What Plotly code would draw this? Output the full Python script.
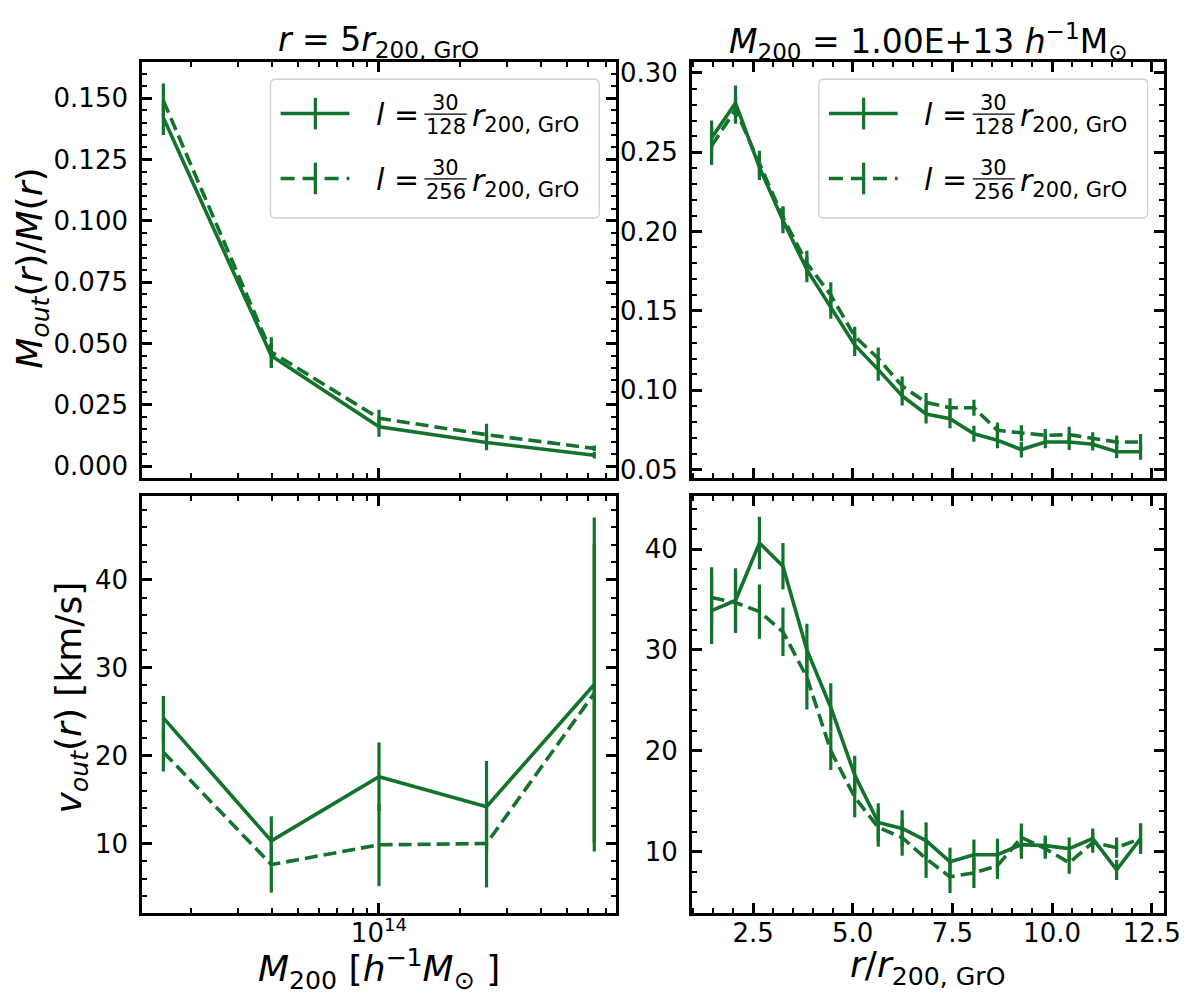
import plotly.graph_objects as go

# ---- data ----
mass = [1.58e13, 3.98e13, 1.0e14, 2.51e14, 6.31e14]
mfrac_128 = [0.142, 0.045, 0.016, 0.0096, 0.0044]
mfrac_128_err = [0.007, 0.005, 0.004, 0.0032, 0.0013]
mfrac_256 = [0.149, 0.0465, 0.0195, 0.0128, 0.0072]
mfrac_256_err = [0.007, 0.006, 0.0035, 0.0045, 0.0012]
vout_128 = [24.3, 10.3, 17.6, 14.2, 28.1]
vout_128_err = [2.5, 2.8, 3.9, 5.2, 19.0]
vout_256 = [20.4, 7.6, 9.85, 10.0, 27.1]
vout_256_err = [2.2, 3.2, 4.7, 5.0, 17.0]

radius = [1.46, 2.06, 2.66, 3.25, 3.85, 4.45, 5.05, 5.64, 6.24, 6.84,
          7.44, 8.04, 8.63, 9.23, 9.83, 10.43, 11.02, 11.62, 12.22]
prof_mfrac_128 = [0.259, 0.281, 0.2405, 0.207, 0.176, 0.152, 0.1286, 0.113, 0.0964, 0.085,
                  0.082, 0.0726, 0.0685, 0.0626, 0.0674, 0.0674, 0.066, 0.0612, 0.0612]
prof_mfrac_128_err = [0.011, 0.011, 0.008, 0.008, 0.008, 0.007, 0.007, 0.007, 0.006, 0.006,
                      0.006, 0.005, 0.005, 0.005, 0.004, 0.005, 0.004, 0.004, 0.005]
prof_mfrac_256 = [0.254, 0.277, 0.243, 0.209, 0.180, 0.160, 0.134, 0.120, 0.1027, 0.0923,
                  0.089, 0.089, 0.0747, 0.073, 0.0716, 0.072, 0.0695, 0.0674, 0.0674]
prof_mfrac_256_err = [0.012, 0.009, 0.008, 0.007, 0.008, 0.008, 0.006, 0.007, 0.006, 0.006,
                      0.006, 0.005, 0.005, 0.005, 0.004, 0.005, 0.004, 0.004, 0.005]
prof_vout_128 = [33.9, 34.9, 40.6, 38.3, 30.0, 24.3, 17.6, 12.9, 12.3, 11.1,
                 9.0, 9.7, 9.7, 10.7, 10.6, 10.3, 11.3, 8.2, 11.3]
prof_vout_128_err = [3.3, 3.2, 2.6, 2.3, 2.6, 2.4, 1.9, 1.9, 1.8, 1.8,
                     1.4, 1.5, 1.6, 1.4, 1.0, 1.1, 1.0, 1.0, 1.5]
prof_vout_256 = [35.2, 34.7, 33.8, 31.8, 27.3, 20.0, 15.4, 12.4, 11.4, 9.3,
                 7.5, 7.9, 8.6, 11.4, 10.3, 8.9, 10.9, 10.4, 11.3]
prof_vout_256_err = [3.0, 3.0, 2.7, 2.4, 3.2, 1.9, 2.0, 1.9, 1.8, 1.9,
                     1.6, 1.5, 1.3, 1.4, 1.0, 1.1, 1.0, 1.0, 1.5]

resolutions = ["128", "256"]
log_minor = [2e13, 3e13, 4e13, 5e13, 6e13, 7e13, 8e13, 9e13, 2e14, 3e14, 4e14, 5e14, 6e14, 7e14]

GREEN = "#13722c"
W, H = 1200, 1002
FONT = "DejaVu Sans"


def px(x):
    return x / W


def py(y):
    return 1 - y / H


# panel frames in pixels (left, right, top, bottom)
LEFT = (136, 616)
RIGHT = (693.3, 1171.7)
TOP = (50.7, 471)
BOT = (489, 911)

fig = go.Figure()


def add_pair(xs, y1, e1, y2, e2, xa, ya):
    # dashed (30/256) first, solid (30/128) on top
    fig.add_trace(go.Scatter(x=xs, y=y2, mode="lines", xaxis=xa, yaxis=ya,
                             line=dict(color=GREEN, width=3.6, dash="13px,6px"),
                             error_y=dict(type="data", array=e2, color=GREEN, thickness=3.2, width=0)))
    fig.add_trace(go.Scatter(x=xs, y=y1, mode="lines", xaxis=xa, yaxis=ya,
                             line=dict(color=GREEN, width=3.6),
                             error_y=dict(type="data", array=e1, color=GREEN, thickness=3.2, width=0)))


add_pair(mass, mfrac_128, mfrac_128_err, mfrac_256, mfrac_256_err, "x", "y")
add_pair(radius, prof_mfrac_128, prof_mfrac_128_err, prof_mfrac_256, prof_mfrac_256_err, "x2", "y2")
add_pair(mass, vout_128, vout_128_err, vout_256, vout_256_err, "x3", "y3")
add_pair(radius, prof_vout_128, prof_vout_128_err, prof_vout_256, prof_vout_256_err, "x4", "y4")

base = dict(showline=True, linecolor="black", linewidth=3, mirror="allticks",
            ticks="inside", ticklen=10, tickwidth=2.8, tickcolor="black",
            showgrid=False, zeroline=False,
            tickfont=dict(size=26, color="black", family=FONT))
minor = dict(ticks="inside", ticklen=5, tickwidth=2, tickcolor="black", showgrid=False)

xdom_l = [px(LEFT[0]), px(LEFT[1])]
xdom_r = [px(RIGHT[0]), px(RIGHT[1])]
ydom_t = [py(TOP[1]), py(TOP[0])]
ydom_b = [py(BOT[1]), py(BOT[0])]

logx = dict(base, type="log", range=[13.12, 14.88], tickmode="array", tickvals=[1e14],
            ticktext=["10<sup>14</sup>"], ticklabelstandoff=-5,
            minor=dict(minor, tickmode="array", tickvals=log_minor))
linx = dict(base, range=[0.97, 12.81], tick0=0, dtick=2.5, tickformat=".1f",
            ticklabelstandoff=-5, minor=dict(minor, tick0=0, dtick=0.5))
liny = dict(base, ticklabelstandoff=6)

fig.update_layout(
    width=W, height=H, margin=dict(l=0, r=0, t=0, b=0),
    plot_bgcolor="white", paper_bgcolor="white", showlegend=False,
    font=dict(family=FONT, color="black"),
    xaxis=dict(logx, domain=xdom_l, anchor="y", showticklabels=False),
    yaxis=dict(liny, domain=ydom_t, anchor="x", range=[-0.0048, 0.1647], tick0=0, dtick=0.025,
               tickformat=".3f", minor=dict(minor, tick0=0, dtick=0.005)),
    xaxis2=dict(linx, domain=xdom_r, anchor="y2", showticklabels=False),
    yaxis2=dict(liny, domain=ydom_t, anchor="x2", range=[0.0448, 0.3068], tick0=0, dtick=0.05,
                tickformat=".2f", minor=dict(minor, tick0=0, dtick=0.01)),
    xaxis3=dict(logx, domain=xdom_l, anchor="y3"),
    yaxis3=dict(liny, domain=ydom_b, anchor="x3", range=[2.09, 49.6], tick0=0, dtick=10,
                minor=dict(minor, tick0=0, dtick=2)),
    xaxis4=dict(linx, domain=xdom_r, anchor="y4"),
    yaxis4=dict(liny, domain=ydom_b, anchor="x4", range=[3.92, 45.3], tick0=0, dtick=10,
                minor=dict(minor, tick0=0, dtick=2)),
)


def label(text, x, y, size=36, angle=0):
    fig.add_annotation(text=text, xref="paper", yref="paper", x=px(x), y=py(y),
                       xanchor="center", yanchor="middle", textangle=angle, showarrow=False,
                       font=dict(size=size, family=FONT, color="black"))


# axis labels
label("<i>M</i><sub><i>out</i></sub>(<i>r</i>)/<i>M</i>(<i>r</i>)", 24, 259, angle=-90)
label("<i>v</i><sub><i>out</i></sub>(<i>r</i>) [km/s]", 64, 693, angle=-90)
label("<i>M</i><sub>200</sub> [<i>h</i><sup>\u22121</sup><i>M</i><sub>\u2299</sub> ]",
      (LEFT[0] + LEFT[1]) / 2, 968)
label("<i>r</i>/<i>r</i><sub>200, GrO</sub>", (RIGHT[0] + RIGHT[1]) / 2, 966)

# panel titles
label("<i>r</i> = 5<i>r</i><sub>200, GrO</sub>", (LEFT[0] + LEFT[1]) / 2, 30, size=33)
label("<i>M</i><sub>200</sub> = 1.00E+13 <i>h</i><sup>\u22121</sup>M<sub>\u2299</sub>",
      (RIGHT[0] + RIGHT[1]) / 2, 30, size=33)


def rounded_rect(x0, y0, x1, y1, r):
    rx, ry = r / W, r / H
    X0, X1, Y0, Y1 = px(x0), px(x1), py(y1), py(y0)
    return (f"M {X0 + rx},{Y0} L {X1 - rx},{Y0} Q {X1},{Y0} {X1},{Y0 + ry} "
            f"L {X1},{Y1 - ry} Q {X1},{Y1} {X1 - rx},{Y1} L {X0 + rx},{Y1} "
            f"Q {X0},{Y1} {X0},{Y1 - ry} L {X0},{Y0 + ry} Q {X0},{Y0} {X0 + rx},{Y0} Z")


def add_legend(R, T):
    fig.add_shape(type="path", path=rounded_rect(R - 350, T + 17.3, R - 16.7, T + 157.6, 5),
                  xref="paper", yref="paper", fillcolor="rgba(255,255,255,0.8)",
                  line=dict(color="#d0d0d0", width=1.3))
    for i, den in enumerate(resolutions):
        yr = T + 52 + i * 65.6
        fig.add_shape(type="line", xref="paper", yref="paper",
                      x0=px(R - 339.7), x1=px(R - 270), y0=py(yr), y1=py(yr),
                      line=dict(color=GREEN, width=3.6, dash="solid" if i == 0 else "14px,8px"))
        fig.add_shape(type="line", xref="paper", yref="paper",
                      x0=px(R - 304.5), x1=px(R - 304.5), y0=py(yr - 16), y1=py(yr + 16),
                      line=dict(color=GREEN, width=3.2))
        fig.add_annotation(text="<i>l</i> =", xref="paper", yref="paper",
                           x=px(R - 245), y=py(yr + 1), xanchor="left", yanchor="middle",
                           showarrow=False, font=dict(size=30, family=FONT, color="black"))
        fig.add_annotation(text="30", xref="paper", yref="paper",
                           x=px(R - 172.4), y=py(yr - 11), xanchor="center", yanchor="middle",
                           showarrow=False, font=dict(size=21, family=FONT, color="black"))
        fig.add_annotation(text=den, xref="paper", yref="paper",
                           x=px(R - 172.4), y=py(yr + 14), xanchor="center", yanchor="middle",
                           showarrow=False, font=dict(size=21, family=FONT, color="black"))
        fig.add_shape(type="line", xref="paper", yref="paper",
                      x0=px(R - 194), x1=px(R - 151), y0=py(yr + 0.5), y1=py(yr + 0.5),
                      line=dict(color="black", width=1.3))
        fig.add_annotation(text="<i>r</i><sub>200, GrO</sub>", xref="paper", yref="paper",
                           x=px(R - 148), y=py(yr + 4), xanchor="left", yanchor="middle",
                           showarrow=False, font=dict(size=30, family=FONT, color="black"))


add_legend(LEFT[1], TOP[0])
add_legend(RIGHT[1], TOP[0])

fig.write_html("out.html")
